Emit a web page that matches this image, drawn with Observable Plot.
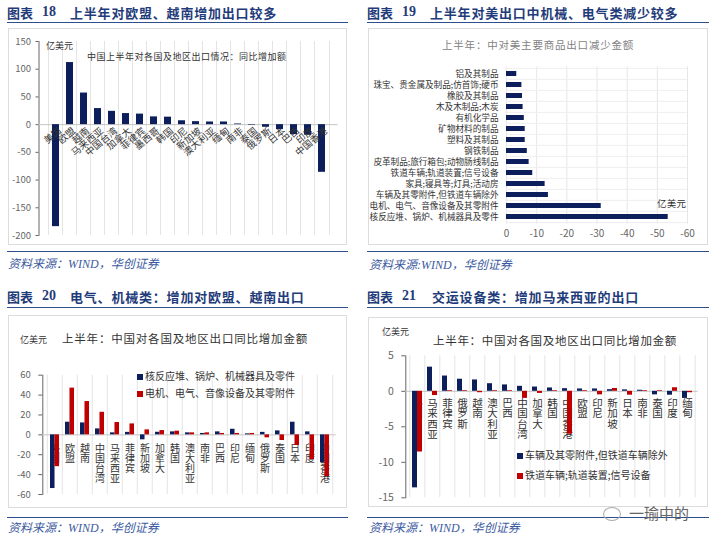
<!DOCTYPE html>
<html><head><meta charset="utf-8">
<script src="https://cdn.jsdelivr.net/npm/d3@7"></script>
<script src="https://cdn.jsdelivr.net/npm/@observablehq/plot@0.6"></script>
<style>
body{margin:0;background:#fff;font-family:"Noto Sans CJK SC",sans-serif;}
#root{position:relative;width:717px;height:542px;overflow:hidden;background:#fff;}
.abs{position:absolute;white-space:nowrap;}
.hr{position:absolute;height:0;border-top:1.5px solid #2f4f8c;}
.box{position:absolute;border:1px solid #dcdcdc;box-sizing:border-box;}
.sq{display:inline-block;width:6px;height:6px;margin-right:2px;vertical-align:middle;}
</style></head><body><div id="root"></div>
<script>
// ---------- data ----------
const cats1 = ["美国","欧盟","越南","马来西亚","中国台湾","加拿大","菲律宾","墨西哥","韩国","印尼","新加坡","澳大利亚","缅甸","南非","泰国","俄罗斯","日本","巴西","印度","中国香港"];
const vals1 = [-184,112,57,29,24,20,19,14,13.5,7,5.4,4.8,4.8,1.2,-1,-4.8,-9,-18,-19,-86];
const ticks1 = [150,100,50,0,-50,-100,-150,-200];

const cats2 = ["铝及其制品","珠宝、贵金属及制品;仿首饰;硬币","橡胶及其制品","木及木制品;木炭","有机化学品","矿物材料的制品","塑料及其制品","钢铁制品","皮革制品;旅行箱包;动物肠线制品","铁道车辆;轨道装置;信号设备","家具;寝具等;灯具;活动房","车辆及其零附件,但铁道车辆除外","电机、电气、音像设备及其零附件","核反应堆、锅炉、机械器具及零件"];
const vals2 = [-3.4,-5.1,-5.3,-5.5,-5.9,-6.2,-6.2,-6.9,-7.5,-8.7,-12.8,-13.9,-31.4,-53.6];
const ticks2 = [0,-10,-20,-30,-40,-50,-60];

const cats3 = ["美国","欧盟","越南","中国台湾","马来西亚","菲律宾","新加坡","加拿大","韩国","澳大利亚","南非","巴西","印尼","缅甸","俄罗斯","泰国","日本","印度","中国香港"];
const blue3 = [-54,12.7,12,6,2,2.5,-5,2.6,3,2,1.4,3,5.6,1,2.5,4,12.7,3,-28];
const red3 = [-32,47,33.5,22.7,12.4,11,5,4.3,3.7,2,2,1.4,1.4,1.4,-3,-5.7,-10.7,-25,-42];
const ticks3 = [60,40,20,0,-20,-40,-60];
const series3 = ["核反应堆、锅炉、机械器具及零件","电机、电气、音像设备及其零附件"];

const cats4 = ["美国","马来西亚","菲律宾","俄罗斯","越南","澳大利亚","巴西","中国台湾","加拿大","韩国","中国香港","欧盟","印尼","新加坡","日本","南非","泰国","印度","缅甸"];
const blue4 = [-13.6,3.4,2.15,1.7,1.6,1.07,0.9,0.7,0.6,0.47,0.37,0.33,0.33,0.23,0.2,0.15,-0.5,-0.55,-1.0];
const red4 = [-8.55,-0.6,0.1,0.1,-0.2,0.1,0.1,-1.0,-0.3,0.1,-6.05,0.1,-0.5,0.4,-0.55,0.1,0.1,0.5,-0.2];
const ticks4 = [5,0,-5,-10,-15];
const series4 = ["车辆及其零附件,但铁道车辆除外","铁道车辆;轨道装置;信号设备"];

// ---------- helpers ----------
const navy = "#0c1f5c", red = "#c00000";
const font = "'Noto Sans CJK SC', sans-serif";
const root = document.getElementById("root");
function txt(x, yc, html, size, css = {}) {
  const d = document.createElement("div");
  d.className = "abs";
  d.innerHTML = html;
  Object.assign(d.style, {left: x + "px", top: (yc - size / 2) + "px", fontSize: size + "px", lineHeight: size + "px"}, css);
  root.appendChild(d);
  return d;
}
function hr(x1, x2, y) {
  const d = document.createElement("div");
  d.className = "hr";
  Object.assign(d.style, {left: x1 + "px", width: (x2 - x1) + "px", top: y + "px"});
  root.appendChild(d);
}
function box(x, y, w, h) {
  const d = document.createElement("div");
  d.className = "box";
  Object.assign(d.style, {left: x + "px", top: y + "px", width: w + "px", height: h + "px"});
  root.appendChild(d);
}
function put(svg, x, y) {
  svg.style.position = "absolute";
  svg.style.left = x + "px";
  svg.style.top = y + "px";
  root.appendChild(svg);
}
// stack CJK category labels vertically (one text element per label)
function verticalize(svg) {
  svg.querySelectorAll('g[aria-label="text"] text').forEach(t => {
    t.style.writingMode = "vertical-rl";
    t.setAttribute("writing-mode", "vertical-rl");
    t.setAttribute("text-anchor", "start");
    t.removeAttribute("dy");
  });
}
const titleCss = {fontWeight: "700", color: "#1f3c7a", fontFamily: "'Noto Sans CJK SC', sans-serif"};
function header(x, yc, num, title, tx) {
  txt(x, yc, "图表", 13, titleCss);
  txt(x + 35, yc, num, 14, {...titleCss, fontFamily: "'Liberation Serif', serif"});
  txt(tx, yc, title, 13, {...titleCss, letterSpacing: "0.8px"});
}
const srcCss = {fontStyle: "italic", color: "#3b5aa0", fontFamily: "'Liberation Serif','Noto Sans CJK SC',serif"};

// ---------- frames ----------
header(7, 12, "18", "上半年对欧盟、越南增加出口较多", 70);
header(367, 12, "19", "上半年对美出口中机械、电气类减少较多", 430);
header(7, 296, "20", "电气、机械类：增加对欧盟、越南出口", 70);
header(367, 296, "21", "交运设备类：增加马来西亚的出口", 432);
hr(7, 348, 22); hr(367, 709, 22); hr(7, 348, 307); hr(367, 709, 307);
box(8, 28, 339, 217); box(368, 28, 340, 217); box(8, 315, 339, 193); box(368, 317, 340, 190);
hr(7, 348, 251); hr(367, 709, 251); hr(7, 348, 517); hr(367, 709, 517);
txt(8, 264, "资料来源：WIND，华创证券", 12, srcCss);
txt(369, 265, "资料来源:WIND，华创证券", 12, srcCss);
txt(8, 528, "资料来源：WIND，华创证券", 12, srcCss);
txt(369, 528, "资料来源：WIND，华创证券", 12, srcCss);

const baseStyle = (fs) => ({fontFamily: font, fontSize: fs + "px", color: "#666", background: "transparent", overflow: "visible"});

// ---------- panel 1 ----------
{
  const W = 339, H = 217, ml = 30.5, mr = 9.5;
  const step = (W - ml - mr) / cats1.length;
  const data = cats1.map((c, i) => ({cat: c, val: vals1[i]}));
  const p = Plot.plot({
    width: W, height: H, marginTop: 13, marginBottom: 10, marginLeft: ml, marginRight: mr,
    style: baseStyle(9.5),
    x: {domain: cats1, paddingInner: 0.5, paddingOuter: 0.25, axis: null},
    y: {domain: [-200, 150], ticks: ticks1, tickSize: 3, tickPadding: 5, line: true, label: null, tickFormat: d => String(d)},
    marks: [
      Plot.ruleX(cats1, {x: d => d, dx: -step / 2, stroke: "#e4e4e4"}),
      Plot.ruleX(cats1.slice(-1), {x: d => d, dx: step / 2, stroke: "#e4e4e4"}),
      Plot.ruleY([0], {stroke: "#c4c4c4"}),
      Plot.barY(data, {x: "cat", y1: 0, y2: "val", fill: navy}),
      Plot.text(cats1, {x: d => d, y: d => 0, text: d => d, rotate: -40, textAnchor: "end", dx: 4, dy: 5, fontSize: 9.5, fill: "#333"})
    ]
  });
  put(p, 8, 28);
  txt(46, 45, "亿美元", 9, {color: "#333"});
  txt(87, 56, "中国上半年对各国及地区出口情况：同比增加额", 9, {color: "#333", letterSpacing: "0.5px"});
}

// ---------- panel 2 ----------
{
  const W = 340, H = 217, mt = 38.4, mb = 21.4, ml = 138, mr = 21;
  const step = (H - mt - mb) / cats2.length;
  const data = cats2.map((c, i) => ({cat: c, val: vals2[i]}));
  const p = Plot.plot({
    width: W, height: H, marginTop: mt, marginBottom: mb, marginLeft: ml, marginRight: mr,
    style: baseStyle(10),
    x: {domain: [0, -60], ticks: ticks2, tickSize: 0, tickPadding: 6, label: null, tickFormat: d => String(d)},
    y: {domain: cats2, paddingInner: 0.55, paddingOuter: 0.275, axis: null},
    marks: [
      Plot.ruleX(ticks2, {stroke: "#e6e6e6"}),
      Plot.ruleY(cats2, {y: d => d, dy: -step / 2, stroke: "#eeeeee"}),
      Plot.ruleY(cats2.slice(-1), {y: d => d, dy: step / 2, stroke: "#eeeeee"}),
      Plot.barX(data, {y: "cat", x1: 0, x2: "val", fill: navy}),
      Plot.text(cats2, {y: d => d, x: d => 0, text: d => d, textAnchor: "end", dx: -8, fontSize: 8.6, fill: "#333"})
    ]
  });
  put(p, 368, 28);
  txt(442, 45, "上半年：中对美主要商品出口减少金额", 10.5, {color: "#7f7f7f", letterSpacing: "0.8px"});
  txt(657, 204, "亿美元", 9.5, {color: "#333", letterSpacing: "0.3px"});
}

// ---------- panel 3 ----------
{
  const W = 339, H = 193, ml = 34.3, mr = 11.3;
  const step = (W - ml - mr) / cats3.length;
  const pi = 0.42, bw = step * (1 - pi);
  const data = cats3.map((c, i) => ({cat: c, b: blue3[i], r: red3[i]}));
  const p = Plot.plot({
    width: W, height: H, marginTop: 59.7, marginBottom: 14, marginLeft: ml, marginRight: mr,
    style: baseStyle(9.5),
    x: {domain: cats3, paddingInner: pi, paddingOuter: pi / 2, axis: null},
    y: {domain: [-60, 60], ticks: ticks3, tickSize: 4, tickPadding: 8, line: true, label: null, tickFormat: d => String(d)},
    marks: [
      Plot.ruleX(cats3, {x: d => d, dx: -step / 2, stroke: "#e4e4e4"}),
      Plot.ruleX(cats3.slice(-1), {x: d => d, dx: step / 2, stroke: "#e4e4e4"}),
      Plot.ruleY([0], {stroke: "#c4c4c4"}),
      Plot.text(cats3, {x: d => d, y: d => 0, text: d => d, dy: 5, fontSize: 10, fill: "#333"}),
      Plot.barY(data, {x: "cat", y1: 0, y2: "b", insetRight: bw / 2, fill: navy}),
      Plot.barY(data, {x: "cat", y1: 0, y2: "r", insetLeft: bw / 2, fill: red})
    ]
  });
  verticalize(p);
  put(p, 8, 315);
  txt(20, 339, "亿美元", 9, {color: "#333"});
  txt(62, 339, "上半年：中国对各国及地区出口同比增加金额", 11.5, {color: "#333", letterSpacing: "0.8px"});
  txt(137, 376, `<span class="sq" style="background:${navy}"></span>${series3[0]}`, 10, {color: "#333"});
  txt(137, 393, `<span class="sq" style="background:${red}"></span>${series3[1]}`, 10, {color: "#333"});
}

// ---------- panel 4 ----------
{
  const W = 340, H = 190, ml = 37.3, mr = 10.3;
  const step = (W - ml - mr) / cats4.length;
  const pi = 0.35, bw = step * (1 - pi);
  const data = cats4.map((c, i) => ({cat: c, b: blue4[i], r: red4[i]}));
  const p = Plot.plot({
    width: W, height: H, marginTop: 38.3, marginBottom: 9.7, marginLeft: ml, marginRight: mr,
    style: baseStyle(10.5),
    x: {domain: cats4, paddingInner: pi, paddingOuter: pi / 2, axis: null},
    y: {domain: [-15, 5], ticks: ticks4, tickSize: 4, tickPadding: 8, line: true, label: null, tickFormat: d => String(d)},
    marks: [
      Plot.ruleX(cats4, {x: d => d, dx: -step / 2, stroke: "#e4e4e4"}),
      Plot.ruleX(cats4.slice(-1), {x: d => d, dx: step / 2, stroke: "#e4e4e4"}),
      Plot.ruleY([0], {stroke: "#c4c4c4"}),
      Plot.text(cats4, {x: d => d, y: d => 0, text: d => d, dy: 3, fontSize: 10.5, fill: "#333"}),
      Plot.barY(data, {x: "cat", y1: 0, y2: "b", insetRight: bw / 2, fill: navy}),
      Plot.barY(data, {x: "cat", y1: 0, y2: "r", insetLeft: bw / 2, fill: red})
    ]
  });
  verticalize(p);
  put(p, 368, 317);
  txt(382, 331, "亿美元", 9, {color: "#333"});
  txt(433, 341, "上半年：中国对各国及地区出口同比增加金额", 11.5, {color: "#333", letterSpacing: "0.7px"});
  txt(517, 455, `<span class="sq" style="background:${navy}"></span>${series4[0]}`, 10, {color: "#333"});
  txt(517, 475, `<span class="sq" style="background:${red}"></span>${series4[1]}`, 10, {color: "#333"});
  txt(603, 512, `<span style="display:inline-block;width:16px;height:12px;border:1.5px solid #aaa;border-radius:50%;vertical-align:middle;margin-right:8px"></span>一瑜中的`, 15, {color: "#666"});
}
</script></body></html>
